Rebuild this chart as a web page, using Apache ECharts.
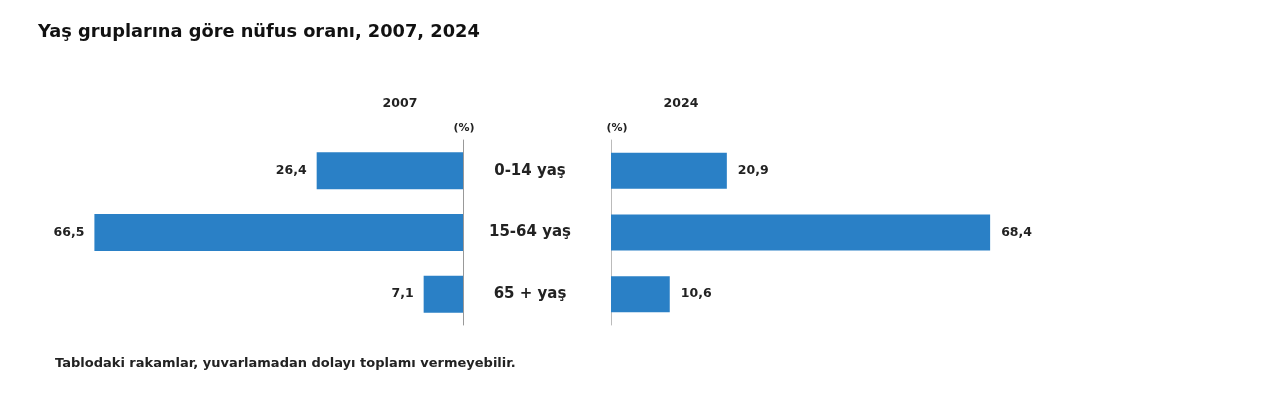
<!DOCTYPE html>
<html><head><meta charset="utf-8">
<script src="https://cdn.jsdelivr.net/npm/echarts@6/dist/echarts.min.js"></script>
<style>html,body{margin:0;padding:0;background:#fff}#c{width:1280px;height:401px}</style>
</head><body><div id="c"></div>
<script>
const categories = ['0-14 yaş', '15-64 yaş', '65 + yaş'];
const values2007 = [26.4, 66.5, 7.1];
const values2024 = [20.9, 68.4, 10.6];
const years = ['2007', '2024'];
const title = 'Yaş gruplarına göre nüfus oranı, 2007, 2024';
const note = 'Tablodaki rakamlar, yuvarlamadan dolayı toplamı vermeyebilir.';

const font = '"DejaVu Sans", sans-serif';
const barColor = '#2a80c6';
const fmt = p => String(p.value).replace('.', ',');
const chart = echarts.init(document.getElementById('c'));
chart.setOption({
  animation: false,
  textStyle: { fontFamily: font },
  title: [
    { text: title, left: 33, top: 18, textStyle: { fontFamily: font, fontSize: 17.8, fontWeight: 'bold', color: '#111' } },
    { text: years[0], left: 395, top: 92, textAlign: 'center', textStyle: { fontFamily: font, fontSize: 12.5, fontWeight: 'bold', color: '#222' } },
    { text: years[1], left: 676, top: 92, textAlign: 'center', textStyle: { fontFamily: font, fontSize: 12.5, fontWeight: 'bold', color: '#222' } },
    { text: '(%)', left: 459, top: 118, textAlign: 'center', textStyle: { fontFamily: font, fontSize: 11, fontWeight: 'bold', color: '#222' } },
    { text: '(%)', left: 612, top: 118, textAlign: 'center', textStyle: { fontFamily: font, fontSize: 11, fontWeight: 'bold', color: '#222' } },
    { text: note, left: 50, top: 352, textStyle: { fontFamily: font, fontSize: 13, fontWeight: 'bold', color: '#222' } }
  ],
  grid: [
    { left: 75, width: 388, top: 140, height: 185 },
    { left: 611, width: 388, top: 140, height: 185 }
  ],
  xAxis: [
    { gridIndex: 0, type: 'value', min: 0, max: 70, inverse: true, show: false },
    { gridIndex: 1, type: 'value', min: 0, max: 70, show: false }
  ],
  yAxis: [
    { gridIndex: 0, type: 'category', data: categories, inverse: true, position: 'right',
      axisLine: { lineStyle: { color: '#999', width: 1 } }, axisTick: { show: false }, axisLabel: { show: false } },
    { gridIndex: 1, type: 'category', data: categories, inverse: true, position: 'left',
      axisLine: { lineStyle: { color: '#bbb', width: 1 } }, axisTick: { show: false },
      axisLabel: { show: true, align: 'center', margin: 81, fontFamily: font, fontSize: 15, fontWeight: 'bold', color: '#222' } }
  ],
  series: [
    { type: 'bar', xAxisIndex: 0, yAxisIndex: 0, data: values2007, barWidth: 37,
      itemStyle: { color: barColor },
      label: { show: true, position: 'left', distance: 10, formatter: fmt, fontFamily: font, fontSize: 12.5, fontWeight: 'bold', color: '#222' } },
    { type: 'bar', xAxisIndex: 1, yAxisIndex: 1, data: values2024, barWidth: 36,
      itemStyle: { color: barColor },
      label: { show: true, position: 'right', distance: 11, formatter: fmt, fontFamily: font, fontSize: 12.5, fontWeight: 'bold', color: '#222' } }
  ]
});
</script></body></html>
